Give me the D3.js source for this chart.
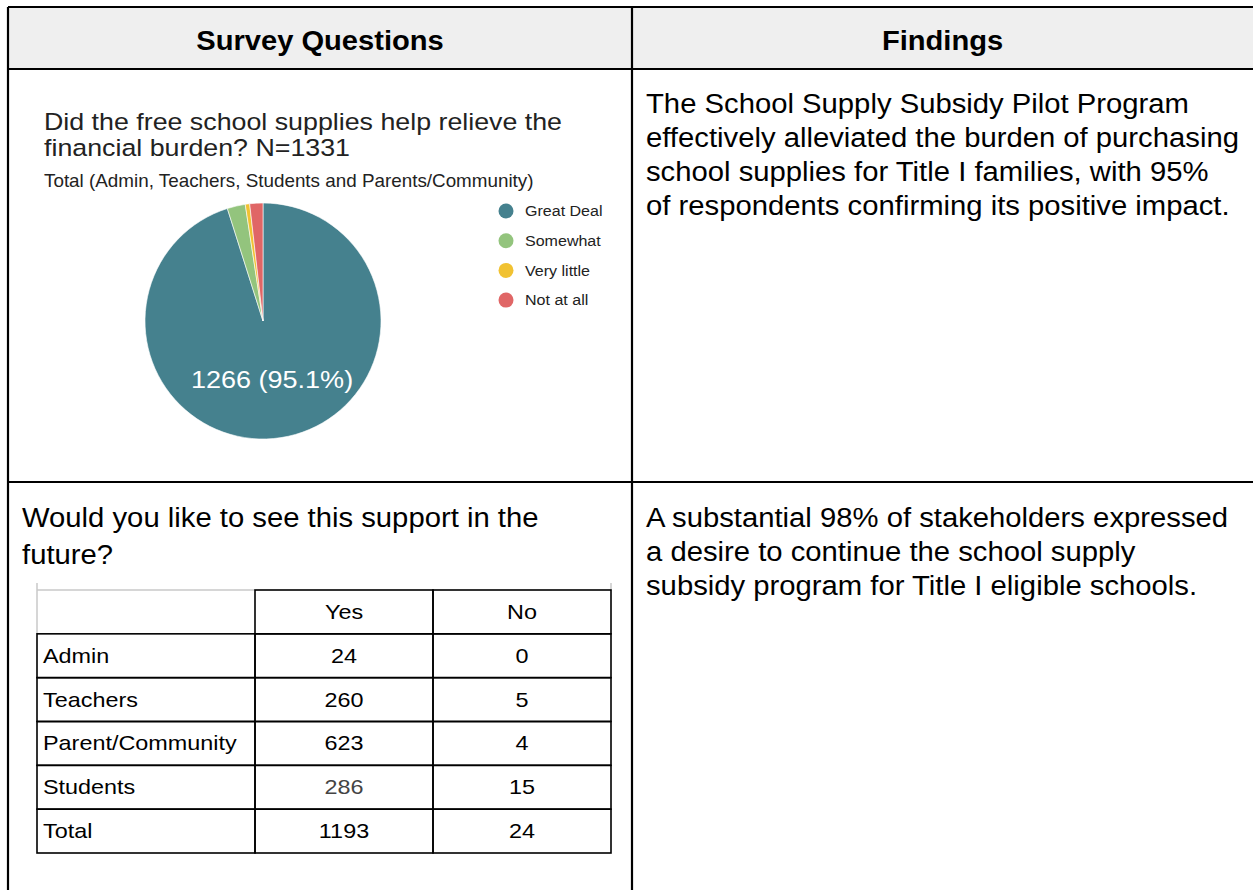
<!DOCTYPE html>
<html><head><meta charset="utf-8">
<script src="https://cdn.jsdelivr.net/npm/d3@7"></script>
<style>html,body{margin:0;padding:0;background:#fff;overflow:hidden}svg{display:block;font-family:Arial,"Liberation Sans",sans-serif}</style>
</head><body><div id="c"></div>
<script>
const pieCategories = ["Great Deal","Somewhat","Very little","Not at all"];
const pieValues = [1266, 33, 8, 24];
const pieColors = ["#45818e","#93c47d","#f1c232","#e06666"];
const tableGroups = ["Admin","Teachers","Parent/Community","Students","Total"];
const tableColumns = ["Yes","No"];
const yesValues = [24,260,623,286,1193];
const noValues = [0,5,4,15,24];
const chartTitle = ["Did the free school supplies help relieve the","financial burden? N=1331"];
const chartSubtitle = "Total (Admin, Teachers, Students and Parents/Community)";
const question2 = ["Would you like to see this support in the","future?"];
const findings1 = ["The School Supply Subsidy Pilot Program","effectively alleviated the burden of purchasing","school supplies for Title I families, with 95%","of respondents confirming its positive impact."];
const findings2 = ["A substantial 98% of stakeholders expressed","a desire to continue the school supply","subsidy program for Title I eligible schools."];

const W=1253,H=890;
const svg=d3.select("#c").append("svg").attr("width",W).attr("height",H);

// helper: place text with horizontal stretch
function txt(sel,x,y,sx){
  return sel.attr("transform",`translate(${x},${y}) scale(${sx},1)`).attr("x",0).attr("y",0);
}

// layout grid
const x0=8, xm=632, x1=1260, y0=7, yh=69, yr=482, y1=900;
svg.append("rect").attr("x",x0).attr("y",y0).attr("width",x1-x0).attr("height",yh-y0).attr("fill","#efefef");
const lines=[[x0,y0,x1,y0],[x0,yh,x1,yh],[x0,yr,x1,yr],[x0,y0,x0,y1],[xm,y0,xm,y1]];
svg.selectAll("line.grid").data(lines).join("line").attr("class","grid")
 .attr("x1",d=>d[0]).attr("y1",d=>d[1]).attr("x2",d=>d[2]).attr("y2",d=>d[3])
 .attr("stroke","#000").attr("stroke-width",2.2);

txt(svg.append("text"),(x0+xm)/2,50,1.04).attr("text-anchor","middle")
 .attr("font-size",28).attr("font-weight","bold").attr("fill","#000").text("Survey Questions");
txt(svg.append("text"),(xm+1253)/2,50,1.04).attr("text-anchor","middle")
 .attr("font-size",28).attr("font-weight","bold").attr("fill","#000").text("Findings");

// chart title
svg.append("g").selectAll("text").data(chartTitle).join("text")
 .each(function(d,i){txt(d3.select(this),44,130+i*26,1.14);})
 .attr("font-size",23.5).attr("fill","#222").text(d=>d);
txt(svg.append("text"),44,187,1.077).attr("font-size",17.5).attr("fill","#222").text(chartSubtitle);

// pie
const cx=263, cy=321, R=118;
const pie=d3.pie().sort(null).value(d=>d.v);
const pdata=pieCategories.map((c,i)=>({c,v:pieValues[i],col:pieColors[i]}));
const arcs=pie(pdata);
const arc=d3.arc().innerRadius(0).outerRadius(R);
const g=svg.append("g").attr("transform",`translate(${cx},${cy})`);
g.selectAll("path").data(arcs).join("path").attr("d",arc).attr("fill",d=>d.data.col).attr("stroke","#fff").attr("stroke-width",0.6);
const total=d3.sum(pieValues);
const a0=arcs[0];
const mid=(a0.startAngle+a0.endAngle)/2;
const lr=R*0.5;
txt(g.append("text"),Math.sin(mid)*lr,-Math.cos(mid)*lr,1.127).attr("dy","0.35em")
 .attr("text-anchor","middle").attr("font-size",24).attr("fill","#fff")
 .text(`${pieValues[0]} (${(pieValues[0]/total*100).toFixed(1)}%)`);

// legend
const lg=svg.append("g").attr("transform","translate(506,211)");
const li=lg.selectAll("g").data(pdata).join("g").attr("transform",(d,i)=>`translate(0,${i*29.7})`);
li.append("circle").attr("r",7.5).attr("fill",d=>d.col);
li.append("text").each(function(){txt(d3.select(this),19,0,1.07);}).attr("dy","0.35em").attr("font-size",15).attr("fill","#222").text(d=>d.c);

// findings
svg.append("g").selectAll("text").data(findings1).join("text")
 .each(function(d,i){txt(d3.select(this),646,113+i*34,1.045);})
 .attr("font-size",28).attr("fill","#000").text(d=>d);
svg.append("g").selectAll("text").data(findings2).join("text")
 .each(function(d,i){txt(d3.select(this),646,527+i*34,1.045);})
 .attr("font-size",28).attr("fill","#000").text(d=>d);

// row 2 question
svg.append("g").selectAll("text").data(question2).join("text")
 .each(function(d,i){txt(d3.select(this),22,527+i*37,1.045);})
 .attr("font-size",28).attr("fill","#000").text(d=>d);

// table
const tx=d3.scaleOrdinal().domain(["label",...tableColumns]).range([37,255,433]);
const cw={label:218,Yes:178,No:178};
const ty=d3.scaleBand().domain(["header",...tableGroups]).range([590,853]);
const t=svg.append("g");
t.append("line").attr("x1",37).attr("y1",583).attr("x2",37).attr("y2",634).attr("stroke","#c8c8c8").attr("stroke-width",1.5);
t.append("line").attr("x1",611).attr("y1",583).attr("x2",611).attr("y2",591).attr("stroke","#c8c8c8").attr("stroke-width",1.5);
t.append("line").attr("x1",37).attr("y1",590).attr("x2",255).attr("y2",590).attr("stroke","#c8c8c8").attr("stroke-width",1.5);
t.selectAll("rect.h").data(tableColumns).join("rect").attr("class","h")
 .attr("x",d=>tx(d)).attr("y",ty("header")).attr("width",d=>cw[d]).attr("height",ty.bandwidth())
 .attr("fill","none").attr("stroke","#000").attr("stroke-width",1.6);
t.selectAll("text.h").data(tableColumns).join("text").attr("class","h")
 .each(function(d){txt(d3.select(this),tx(d)+cw[d]/2,ty("header")+ty.bandwidth()/2,1.17);})
 .attr("dy","0.35em").attr("text-anchor","middle").attr("font-size",20).attr("fill","#000").text(d=>d);
const rows=tableGroups.map((g,i)=>({g,yes:yesValues[i],no:noValues[i]}));
const cells=[];
rows.forEach(r=>{cells.push({row:r.g,col:"label",v:r.g});cells.push({row:r.g,col:"Yes",v:r.yes});cells.push({row:r.g,col:"No",v:r.no});});
t.selectAll("rect.c").data(cells).join("rect").attr("class","c")
 .attr("x",d=>tx(d.col)).attr("y",d=>ty(d.row)).attr("width",d=>cw[d.col]).attr("height",ty.bandwidth())
 .attr("fill","none").attr("stroke","#000").attr("stroke-width",1.6);
t.selectAll("text.c").data(cells).join("text").attr("class","c")
 .each(function(d){txt(d3.select(this),d.col==="label"?tx(d.col)+6:tx(d.col)+cw[d.col]/2,ty(d.row)+ty.bandwidth()/2,1.17);})
 .attr("dy","0.35em")
 .attr("text-anchor",d=>d.col==="label"?"start":"middle").attr("font-size",20)
 .attr("fill",d=>(d.row==="Students"&&d.col==="Yes")?"#444":"#000").text(d=>d.v);
</script></body></html>
